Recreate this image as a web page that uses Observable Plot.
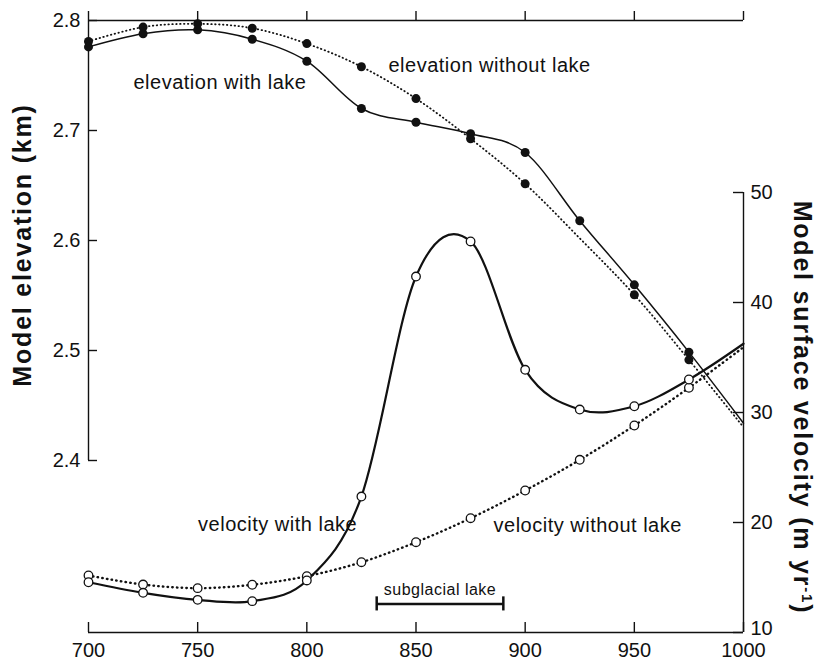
<!DOCTYPE html>
<html><head><meta charset="utf-8">
<script src="https://cdn.jsdelivr.net/npm/d3@7"></script>
<script src="https://cdn.jsdelivr.net/npm/@observablehq/plot@0.6"></script>
<style>body{margin:0;background:#fff;}</style>
</head><body><div id="chart"></div>
<script>
// ---- data ----
const distance        = [700, 725, 750, 775, 800, 825, 850, 875, 900, 925, 950, 975, 1000];
const elevWithLake    = [2.776, 2.788, 2.7915, 2.783, 2.763, 2.720, 2.7075, 2.697, 2.680, 2.618, 2.5597, 2.4985, 2.4339];
const elevWithoutLake = [2.781, 2.794, 2.797, 2.793, 2.779, 2.758, 2.729, 2.6925, 2.6515, 2.602, 2.5506, 2.4915, 2.4303];
const velWithLake     = [14.57, 13.61, 12.97, 12.85, 14.73, 22.36, 42.36, 45.55, 33.88, 30.27, 30.57, 33.0, 36.25];
const velWithoutLake  = [15.18, 14.36, 14.03, 14.34, 15.12, 16.39, 18.21, 20.39, 22.91, 25.7, 28.82, 32.25, 35.94];
const markerDistances = [700, 725, 750, 775, 800, 825, 850, 875, 900, 925, 950, 975];
const elevWithoutLakeMarkerDistances = [700, 725, 750, 775, 800, 825, 850, 875, 900, 950, 975];
const lakeStart = 832, lakeEnd = 890;
const xTicks = [700, 750, 800, 850, 900, 950, 1000];
const elevTicks = [2.4, 2.5, 2.6, 2.7, 2.8];
const velTicks = [10, 20, 30, 40, 50];

// ---- layout ----
const W = 817, H = 661, mL = 88, mR = 74, mT = 20, mB = 29;
const yPix = d3.scaleLinear([2.4, 2.8], [460, 20]);       // elevation axis
const vPix = d3.scaleLinear([10, 50], [H - mB, 192]);      // velocity axis
const vToElev = v => yPix.invert(vPix(v));
const elevToV = e => vPix.invert(yPix(e));
const plotW = W - mL - mR, plotH = H - mT - mB;

const rows = vals => distance.map((d, i) => ({x: d, y: vals[i]}));
const eWith = rows(elevWithLake), eWithout = rows(elevWithoutLake);
const vWith = distance.map((d, i) => ({x: d, y: vToElev(velWithLake[i])}));
const vWithout = distance.map((d, i) => ({x: d, y: vToElev(velWithoutLake[i])}));
const onMarkers = (arr, list) => arr.filter(r => list.includes(r.x));

const ink = "#111";
const curve = {curve: "catmull-rom", tension: 0};
const chart = Plot.plot({
  width: W, height: H, marginLeft: mL, marginRight: mR, marginTop: mT, marginBottom: mB,
  style: {fontFamily: "'Liberation Sans', Arial, sans-serif", fontSize: "20px", color: ink, background: "#fff"},
  x: {domain: [700, 1000]},
  y: {domain: [2.4, 2.8], range: [460, 20]},
  marks: [
    // spines
    Plot.ruleX([700], {y1: 2.4, y2: 2.8, stroke: ink, strokeWidth: 1.4}),
    Plot.ruleY([2.8], {stroke: ink, strokeWidth: 1.4}),
    Plot.ruleX([1000], {y1: vToElev(10), y2: vToElev(50), stroke: ink, strokeWidth: 1.4}),
    Plot.ruleY([vToElev(10)], {stroke: ink, strokeWidth: 1.4}),
    // ticks
    Plot.tickX(xTicks, {x: d => d, insetTop: plotH - 10, stroke: ink, strokeWidth: 1.4}),
    Plot.tickX(xTicks, {x: d => d, insetTop: -9, insetBottom: plotH, stroke: ink, strokeWidth: 1.4}),
    Plot.tickY(elevTicks, {y: d => d, insetRight: plotW - 9, stroke: ink, strokeWidth: 1.4}),
    Plot.tickY(velTicks, {y: d => vToElev(d), insetLeft: plotW - 10, stroke: ink, strokeWidth: 1.4}),
    // lines
    Plot.line(eWithout, {x: "x", y: "y", ...curve, stroke: ink, strokeWidth: 1.8, strokeDasharray: "0.5,3.4", strokeLinecap: "round"}),
    Plot.line(eWith, {x: "x", y: "y", ...curve, stroke: ink, strokeWidth: 1.5}),
    Plot.line(vWithout, {x: "x", y: "y", ...curve, stroke: ink, strokeWidth: 2.4, strokeDasharray: "0.5,4.2", strokeLinecap: "round"}),
    Plot.line(vWith, {x: "x", y: "y", ...curve, stroke: ink, strokeWidth: 2.2}),
    // markers
    Plot.dot(onMarkers(eWithout, elevWithoutLakeMarkerDistances), {x: "x", y: "y", r: 4.5, fill: ink}),
    Plot.dot(onMarkers(eWith, markerDistances), {x: "x", y: "y", r: 4.5, fill: ink}),
    Plot.dot(onMarkers(vWithout, markerDistances), {x: "x", y: "y", r: 4.3, fill: "#fff", stroke: ink, strokeWidth: 1.3}),
    Plot.dot(onMarkers(vWith, markerDistances), {x: "x", y: "y", r: 4.3, fill: "#fff", stroke: ink, strokeWidth: 1.3}),
    // subglacial lake bar
    Plot.ruleY([vToElev(12.6)], {x1: lakeStart, x2: lakeEnd, stroke: ink, strokeWidth: 2.5}),
    Plot.ruleX([lakeStart, lakeEnd], {x: d => d, y1: vToElev(11.96), y2: vToElev(13.24), stroke: ink, strokeWidth: 2.5}),
    Plot.text(["subglacial lake"], {x: (lakeStart + lakeEnd) / 2, y: vToElev(13.83), text: d => d, fontSize: 16, fill: ink}),
    // annotations
    Plot.text(["elevation with lake"], {x: 720.6, y: 2.744, text: d => d, textAnchor: "start", fontSize: 20, fill: ink}),
    Plot.text(["elevation without lake"], {x: 837.4, y: 2.7588, text: d => d, textAnchor: "start", fontSize: 20, fill: ink}),
    Plot.text(["velocity with lake"], {x: 750.2, y: vToElev(19.79), text: d => d, textAnchor: "start", fontSize: 20, fill: ink}),
    Plot.text(["velocity without lake"], {x: 885.5, y: vToElev(19.7), text: d => d, textAnchor: "start", fontSize: 20, fill: ink}),
    // axis labels
    Plot.axisX({anchor: "bottom", ticks: xTicks, tickSize: 0, tickPadding: 10, tickFormat: d => String(d), fontSize: 20, label: null}),
    Plot.axisY({anchor: "left", ticks: elevTicks, tickSize: 0, tickPadding: 8, tickFormat: d3.format(".1f"), fontSize: 20, label: null}),
    Plot.axisY({anchor: "right", ticks: velTicks.map(vToElev), tickSize: 0, tickPadding: 7, tickFormat: e => String(Math.round(elevToV(e))), fontSize: 20, label: null}),
    // axis titles
    Plot.text(["Model elevation (km)"], {x: 700, dx: -65.5, y: yPix.invert(244.5), text: d => d, rotate: -90, fontSize: 25, fontWeight: "bold", fill: ink}),
    Plot.text(["Model surface velocity (m yr-1)"], {x: 1000, dx: 58, y: yPix.invert(407), text: d => d, rotate: 90, fontSize: 25, fontWeight: "bold", fill: ink})
  ]
});
document.getElementById("chart").append(chart);

// typographic touches: letter spacing, superscript, small nudge of the lowest velocity label
d3.select(chart).selectAll("text").each(function() {
  const t = this.textContent;
  const s = d3.select(this);
  if (t === "Model elevation (km)") s.attr("letter-spacing", "1.8px");
  if (t === "Model surface velocity (m yr-1)") {
    s.attr("letter-spacing", "1.8px").text(null);
    s.append("tspan").text("Model surface velocity (m yr");
    s.append("tspan").attr("baseline-shift", "super").attr("font-size", "15px").text("-1");
    s.append("tspan").text(")");
  }
  if (/^(elevation|velocity)/.test(t)) s.attr("letter-spacing", "0.5px");
  if (t === "subglacial lake") s.attr("letter-spacing", "0.5px");
  if (t === "10") s.attr("transform", (s.attr("transform") || "") + " translate(0,-4)");
});
</script></body></html>
